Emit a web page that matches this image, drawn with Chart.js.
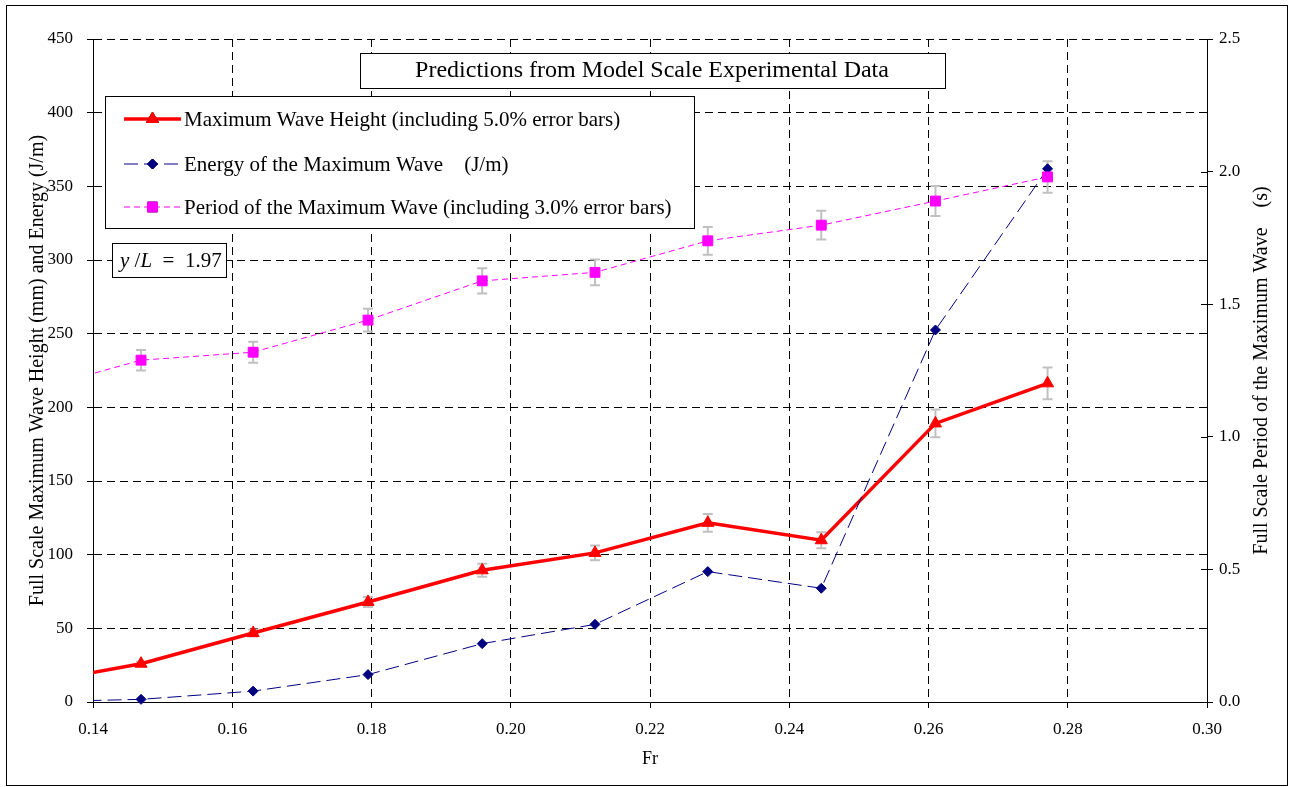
<!DOCTYPE html>
<html>
<head>
<meta charset="utf-8">
<script src="https://cdn.jsdelivr.net/npm/chart.js@4.4.1/dist/chart.umd.min.js"></script>
<style>
html, body { margin: 0; padding: 0; background: #fff; }
</style>
</head>
<body>
<canvas id="Chart" width="1292" height="787"></canvas>
<script>
// values (first point sits left of the axis and is clipped)
const froude     = [0.1306, 0.1469, 0.1630, 0.1795, 0.1959, 0.2121, 0.2283, 0.2446, 0.2610, 0.2771];
const waveHeight = [11.8, 26.0, 46.8, 67.9, 89.4, 101.2, 121.6, 109.8, 189.1, 216.3];
const waveEnergy = [0.0, 1.8, 7.4, 18.6, 39.6, 52.7, 88.5, 77.2, 252.5, 361.9];
const wavePeriod = [1.17, 1.289, 1.319, 1.440, 1.588, 1.620, 1.739, 1.798, 1.889, 1.980];

const frTicks    = [0.14, 0.16, 0.18, 0.20, 0.22, 0.24, 0.26, 0.28, 0.30];
const leftTicks  = [0, 50, 100, 150, 200, 250, 300, 350, 400, 450];
const rightTicks = [0, 0.5, 1.0, 1.5, 2.0, 2.5];

const seriesNames = [
  'Maximum Wave Height (including 5.0% error bars)',
  'Energy of the Maximum Wave    (J/m)',
  'Period of the Maximum Wave (including 3.0% error bars)'
];
const chartTitle = 'Predictions from Model Scale Experimental Data';

const serif = '"Liberation Serif", "Times New Roman", serif';

const pts = (ys) => froude.map((f, i) => ({x: f, y: ys[i]}));

const canvas = document.getElementById('Chart');
const ctx = canvas.getContext('2d');

// error bars, drawn under the lines
const errorBars = {
  id: 'errorBars',
  beforeDatasetsDraw(chart) {
    const c = chart.ctx;
    const xs = chart.scales.x;
    chart.data.datasets.forEach(ds => {
      if (!ds.errorPct) return;
      const ys = chart.scales[ds.yAxisID];
      c.save();
      c.strokeStyle = '#c0c0c0';
      c.lineWidth = 2;
      ds.data.forEach(p => {
        if (p.x < xs.min) return;
        const x = xs.getPixelForValue(p.x);
        const y1 = ys.getPixelForValue(p.y * (1 + ds.errorPct));
        const y2 = ys.getPixelForValue(p.y * (1 - ds.errorPct));
        c.beginPath();
        c.moveTo(x, y1); c.lineTo(x, y2);
        c.moveTo(x - 5, y1); c.lineTo(x + 5, y1);
        c.moveTo(x - 5, y2); c.lineTo(x + 5, y2);
        c.stroke();
      });
      c.restore();
    });
  }
};

// boxes, legend, right title, frame
const extras = {
  id: 'extras',
  afterDraw(chart) {
    const c = chart.ctx;
    const area = chart.chartArea;
    const yr = chart.scales.yR;

    c.save();
    // inner ticks on right axis
    c.strokeStyle = '#000';
    c.lineWidth = 1;
    rightTicks.forEach(v => {
      const y = Math.round(yr.getPixelForValue(v)) + 0.5;
      c.beginPath(); c.moveTo(area.right - 6, y); c.lineTo(area.right, y); c.stroke();
    });

    // right axis title, reads upward
    c.save();
    c.translate(1262, (area.top + area.bottom) / 2);
    c.rotate(-Math.PI / 2);
    c.font = '20px ' + serif;
    c.fillStyle = '#000';
    c.textAlign = 'center';
    c.textBaseline = 'middle';
    c.fillText('Full Scale Period of the Maximum Wave    (s)', 0, 0);
    c.restore();

    // title box
    c.fillStyle = '#fff';
    c.fillRect(360, 53, 585, 35);
    c.strokeRect(360.5, 53.5, 585, 35);
    c.fillStyle = '#000';
    c.font = '24px ' + serif;
    c.textAlign = 'center';
    c.textBaseline = 'middle';
    c.fillText(chartTitle, 652, 71);

    // legend box
    c.fillStyle = '#fff';
    c.fillRect(105, 96, 589, 132);
    c.strokeRect(105.5, 96.5, 589, 132);
    const rows = [119, 164, 207];
    chart.data.datasets.forEach((ds, i) => {
      const y = rows[i];
      c.save();
      c.strokeStyle = ds.borderColor;
      c.lineWidth = ds.borderWidth;
      c.setLineDash(ds.borderDash || []);
      c.beginPath(); c.moveTo(124, y); c.lineTo(181, y); c.stroke();
      c.restore();
      Chart.helpers.drawPoint(c, {
        pointStyle: ds.pointStyle, radius: ds.pointRadius, rotation: 0,
        borderWidth: 1
      }, 152.5, y);
      c.save();
      c.fillStyle = ds.backgroundColor;
      c.strokeStyle = ds.borderColor;
      c.lineWidth = 1;
      c.fill();
      c.stroke();
      c.restore();
      c.fillStyle = '#000';
      c.font = '21px ' + serif;
      c.textAlign = 'left';
      c.textBaseline = 'middle';
      c.fillText(seriesNames[i], 184, y + 1);
    });

    // y/L box
    c.fillStyle = '#fff';
    c.fillRect(112, 243, 114, 34);
    c.strokeStyle = '#000';
    c.strokeRect(112.5, 243.5, 114, 34);
    c.fillStyle = '#000';
    c.textAlign = 'left';
    c.textBaseline = 'middle';
    let x = 120;
    const parts = [['y', true], [' /', false], ['L', true], ['  =  1.97', false]];
    parts.forEach(([t, it]) => {
      c.font = (it ? 'italic ' : '') + '21px ' + serif;
      c.fillText(t, x, 261);
      x += c.measureText(t).width;
    });

    // outer frame
    c.lineWidth = 1;
    c.strokeRect(6.5, 5.5, 1281, 780);
    c.restore();
  }
};

const tickFont = {family: serif, size: 17};

var myChart = new Chart(ctx, {
  type: 'line',
  data: {
    datasets: [{
      label: seriesNames[0],
      data: pts(waveHeight),
      yAxisID: 'y',
      errorPct: 0.05,
      borderColor: '#ff0000',
      backgroundColor: '#ff0000',
      borderWidth: 3.5,
      pointStyle: 'triangle',
      pointRadius: 7,
      pointBorderWidth: 1,
      clip: {left: 0, top: false, right: false, bottom: false},
      order: 2
    }, {
      label: seriesNames[1],
      data: pts(waveEnergy),
      yAxisID: 'y',
      borderColor: '#000080',
      backgroundColor: '#000080',
      borderWidth: 1,
      borderDash: [14, 6],
      pointStyle: 'rectRot',
      pointRadius: 5,
      pointBorderWidth: 1,
      clip: {left: 0, top: false, right: false, bottom: false},
      order: 1
    }, {
      label: seriesNames[2],
      data: pts(wavePeriod),
      yAxisID: 'yR',
      errorPct: 0.03,
      borderColor: '#ff00ff',
      backgroundColor: '#ff00ff',
      borderWidth: 1,
      borderDash: [6, 4],
      pointStyle: 'rect',
      pointRadius: 7,
      pointBorderWidth: 1,
      clip: {left: 0, top: false, right: false, bottom: false},
      order: 0
    }]
  },
  options: {
    responsive: false,
    animation: false,
    layout: {padding: {top: 39, left: 0, right: 0, bottom: 0}},
    plugins: {
      legend: {display: false},
      tooltip: {enabled: false}
    },
    elements: {line: {tension: 0}},
    scales: {
      x: {
        type: 'linear',
        min: 0.14,
        max: 0.30,
        afterBuildTicks: s => { s.ticks = frTicks.map(v => ({value: v})); },
        afterFit: s => { s.height = 85; },
        ticks: {
          font: tickFont, color: '#000', padding: 11,
          callback: v => v.toFixed(2)
        },
        grid: {color: '#000', tickLength: 6, tickBorderDash: []},
        border: {color: '#000', width: 1, dash: [8, 5]},
        title: {display: true, text: 'Fr', color: '#000', font: {family: serif, size: 18}, padding: {top: 0, bottom: 17}}
      },
      y: {
        position: 'left',
        min: 0,
        max: 450,
        afterBuildTicks: s => { s.ticks = leftTicks.map(v => ({value: v})); },
        afterFit: s => { s.width = 93; },
        ticks: {font: tickFont, color: '#000', padding: 14},
        grid: {color: '#000', tickLength: 6, tickBorderDash: []},
        border: {color: '#000', width: 1, dash: [8, 5]},
        title: {
          display: true,
          text: 'Full Scale Maximum Wave Height (mm) and Energy (J/m)',
          color: '#000', font: {family: serif, size: 20}, padding: {top: 26, bottom: 0}
        }
      },
      yR: {
        position: 'right',
        min: 0,
        max: 2.5,
        afterBuildTicks: s => { s.ticks = rightTicks.map(v => ({value: v})); },
        afterFit: s => { s.width = 85; },
        ticks: {font: tickFont, color: '#000', padding: 6, callback: v => v.toFixed(1)},
        grid: {drawOnChartArea: false, color: '#000', tickLength: 6},
        border: {color: '#000', width: 1}
      }
    }
  },
  plugins: [errorBars, extras]
});
</script>
</body>
</html>
